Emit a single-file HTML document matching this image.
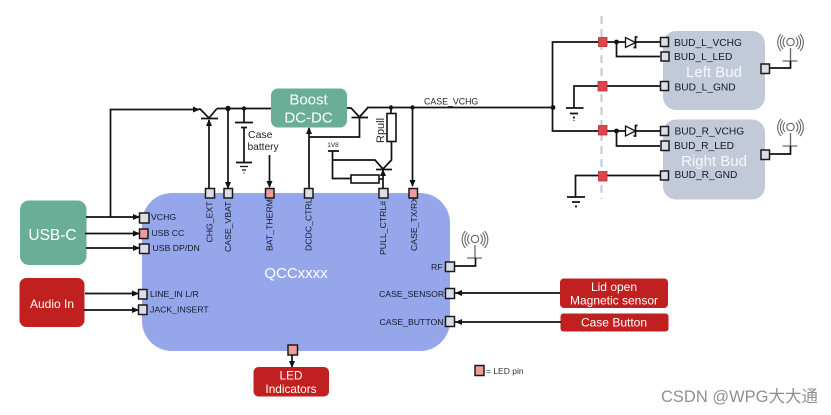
<!DOCTYPE html>
<html><head><meta charset="utf-8"><style>
html,body{margin:0;padding:0;background:#fff}
svg{display:block;filter:blur(.3px)}
text{font-family:"Liberation Sans","Noto Sans CJK SC",sans-serif}
.l{font-size:8.7px;fill:#141a26}
.b{font-size:10.200px;fill:#141a26}
.w{fill:#fff;text-anchor:middle}
.p{fill:#dcdde6;stroke:#1a1a1a;stroke-width:1.500}
.r{fill:#f29a9a;stroke:#1a1a1a;stroke-width:1.500}
.d{fill:#e2444a;stroke:#b03038;stroke-width:.8}
.n{fill:none;stroke:#111;stroke-width:1.700}
.t{fill:none;stroke:#111;stroke-width:1.200}
.a{fill:none;stroke:#666;stroke-width:1.100}
</style></head><body>
<svg width="831" height="415" viewBox="0 0 831 415" xmlns="http://www.w3.org/2000/svg">
<defs><marker id="m" markerWidth="7" markerHeight="7" refX="6" refY="3.500" orient="auto" markerUnits="userSpaceOnUse"><path d="M0 0.5L7 3.500L0 6.500Z" fill="#111"/></marker>
<g id="ant"><path d="M475 245V258" stroke="#666" stroke-width="1.300"/><path d="M467 258H482" stroke="#555" stroke-width="1.100"/><circle cx="475" cy="239" r="3.700" class="a"/><path class="a" d="M469.500 234.500A7 7 0 0 0 469.500 244M480.500 234.500A7 7 0 0 1 480.500 244M467.500 232.500A10 10 0 0 0 467.500 246M482.500 232.500A10 10 0 0 1 482.500 246M465.500 231A12.500 12.500 0 0 0 465.500 248M484.500 231A12.500 12.500 0 0 1 484.500 248"/></g>
<g id="dio"><path d="M625.500 37.500V47.500L635.500 42.500Z" fill="#fff" stroke="#111" stroke-width="1.300"/><path class="n" d="M637.500 37H635.500V47.500H633.500"/></g></defs>

<!-- blocks -->
<rect x="142" y="193" width="308" height="158" rx="30" fill="#96a6eb"/>
<rect x="20" y="200.500" width="66.500" height="64.500" rx="9" fill="#6aae98"/>
<rect x="19.500" y="278" width="65" height="49" rx="7" fill="#c0201f"/>
<rect x="271" y="88.500" width="76" height="39" rx="7" fill="#6aae98"/>
<rect x="663" y="31" width="102" height="79" rx="13" fill="#c2cad9"/>
<rect x="663" y="119.500" width="102" height="80" rx="13" fill="#c2cad9"/>
<rect x="560" y="278.500" width="108" height="29.500" rx="4" fill="#c0201f"/>
<rect x="560.500" y="313.500" width="108" height="18" rx="3" fill="#c0201f"/>
<rect x="253.500" y="367" width="75.500" height="29.500" rx="5" fill="#c0201f"/>

<!-- dashed separator -->
<path d="M601.500 16V199" stroke="#c2c8d8" stroke-width="2" stroke-dasharray="8 5" fill="none"/>

<!-- USB / audio connectors -->
<path class="n" d="M86 217H139" marker-end="url(#m)"/>
<path class="n" d="M85 233.500H139" marker-end="url(#m)"/>
<path class="n" d="M86 248H139" marker-end="url(#m)"/>
<path class="n" d="M85 293.500H138" marker-end="url(#m)"/>
<path class="n" d="M84 310H138" marker-end="url(#m)"/>
<path class="n" d="M110.500 217V109.500H199" marker-end="url(#m)"/>

<!-- CHG transistor -->
<path class="n" d="M199 109H200L209 118M217 108.500L209 118"/>
<path class="n" d="M201 118.500H218"/>
<path class="n" d="M209 189V120" marker-end="url(#m)"/>
<path class="n" d="M217 108.500H271"/>
<circle cx="228" cy="108.500" r="2.700" fill="#111"/>
<circle cx="244" cy="108.500" r="2.200" fill="#111"/>
<path class="n" d="M228 108.500V188" marker-end="url(#m)"/>

<!-- battery -->
<path class="n" d="M244 108.500V122M235 122.500H253M241 127.500H247M244 127.500V162M236 162.500H252"/>
<path class="t" d="M240 166.500H248M242 170H246M243.500 173H244.500"/>
<text x="248" y="138" font-size="10.500" fill="#222">Case</text>
<text x="247.500" y="150" font-size="10.200" fill="#222">battery</text>
<path class="n" d="M269.500 155V187" marker-end="url(#m)"/>

<!-- Boost & second transistor -->
<path class="n" d="M309 188V128" marker-end="url(#m)"/>
<path class="n" d="M309 137H359.500V118"/>
<path class="n" d="M347 108H351L359.500 117M368 107.500L359.500 117"/>
<path class="n" d="M351.500 117.500H368"/>
<path class="n" d="M367 107.500H553"/>
<circle cx="391" cy="107.500" r="2.200" fill="#111"/>
<circle cx="412.500" cy="107.500" r="2.200" fill="#111"/>
<path class="n" d="M412.500 107.500V186" marker-end="url(#m)"/>
<text x="424" y="104.500" font-size="8.800" fill="#1c2430">CASE_VCHG</text>

<!-- Rpull / pull transistor -->
<path class="n" d="M391 107.500V114"/>
<rect x="387" y="113.500" width="9" height="28" fill="#fff" stroke="#111" stroke-width="1.600"/>
<path class="n" d="M391.500 141V160L383 169"/>
<text transform="translate(384,143) rotate(-90)" font-size="11" fill="#222">Rpull</text>
<text x="333" y="147" font-size="6.500" text-anchor="middle" fill="#222">1V8</text>
<path class="n" d="M328 151H339M332.500 151V178.500H351"/>
<rect x="351" y="175" width="28" height="8" fill="#fff" stroke="#111" stroke-width="1.600"/>
<path class="n" d="M332.500 160H375L383 169"/>
<path class="n" d="M376 169.500H392"/>
<path class="n" d="M383 188V170" marker-end="url(#m)"/>
<path class="n" d="M379 179H383"/>

<!-- right connectors in/out -->
<path class="n" d="M455 293H560"/>
<path d="M455 293L462 290V296Z" fill="#111"/>
<path class="n" d="M455 322H561"/>
<path d="M455 322L462 319V325Z" fill="#111"/>
<path class="n" d="M292 355V367" marker-end="url(#m)"/>

<!-- main bus to buds -->
<circle cx="553" cy="107.500" r="2.400" fill="#111"/>
<path class="n" d="M660 42H552.500V131H660"/>
<path class="n" d="M660 56.500H616.500V42"/>
<circle cx="616.500" cy="42" r="2.400" fill="#111"/>
<path class="n" d="M660 86H574V108"/>
<path class="n" d="M566 108H583.500"/>
<path class="n" d="M570 113.500H578M573 117.500H575"/>
<path class="t" d="M573.500 120.500H574.500"/>
<path class="n" d="M660 146H616.500V131"/>
<circle cx="616.500" cy="131" r="2.400" fill="#111"/>
<path class="n" d="M660 175.500H575.500V197"/>
<path class="n" d="M567 197H585M572 202H580M575 206.500H577"/>
<use href="#dio"/>
<use href="#dio" transform="translate(0,88.500)"/>

<!-- dark pins -->
<rect class="d" x="598.500" y="37.500" width="8.500" height="9"/>
<rect class="d" x="598" y="81.500" width="9" height="9.500"/>
<rect class="d" x="598.500" y="125.500" width="8.500" height="9.500"/>
<rect class="d" x="598.500" y="171.500" width="8.500" height="9.500"/>

<!-- bud pins -->
<rect class="p" x="660.500" y="37.500" width="8" height="9"/>
<rect class="p" x="661" y="52" width="8" height="9"/>
<rect class="p" x="660.500" y="81.500" width="8" height="9"/>
<rect class="p" x="660.500" y="126.500" width="8" height="9"/>
<rect class="p" x="661" y="141" width="8" height="9.500"/>
<rect class="p" x="660.500" y="171" width="8" height="9"/>
<rect class="p" x="761" y="64" width="8.500" height="9.500"/>
<rect class="p" x="761" y="150" width="8.500" height="9.500"/>

<!-- chip pins -->
<rect class="p" x="205.500" y="188.500" width="9" height="9.500"/>
<rect class="p" x="224" y="188.500" width="8.500" height="9.500"/>
<rect class="r" x="265.500" y="188.500" width="8.500" height="9.500"/>
<rect class="p" x="304.500" y="188.500" width="8.500" height="9.500"/>
<rect class="p" x="379" y="188.500" width="9" height="9.500"/>
<rect class="r" x="409" y="188.500" width="8.500" height="9.500"/>
<rect class="p" x="139.500" y="213" width="9.500" height="10"/>
<rect class="r" x="139.500" y="229" width="8.500" height="9.500"/>
<rect class="p" x="139.500" y="244" width="9.500" height="9.500"/>
<rect class="p" x="138.500" y="289.500" width="8.500" height="9.500"/>
<rect class="p" x="138.500" y="305" width="8.500" height="9.500"/>
<rect class="p" x="445.500" y="262" width="9" height="9.500"/>
<rect class="p" x="445.500" y="288.500" width="9" height="10"/>
<rect class="p" x="445.500" y="316.500" width="9" height="10"/>
<rect class="r" x="288" y="345" width="9.500" height="10"/>
<rect class="r" x="475" y="365.500" width="9" height="10"/>

<!-- antennas -->
<use href="#ant"/>
<path class="n" d="M455 266H475.500V258"/>
<use href="#ant" transform="translate(315.500,-197)"/>
<path class="n" d="M770 68H790.500V61"/>
<use href="#ant" transform="translate(315.500,-112)"/>
<path class="n" d="M770 154H790.500V146"/>

<!-- block labels -->
<text class="w" x="52.500" y="240" font-size="15.500">USB-C</text>
<text class="w" x="52" y="308" font-size="12">Audio In</text>
<text class="w" x="308.500" y="104.500" font-size="15">Boost</text>
<text class="w" x="308.500" y="122.500" font-size="15">DC-DC</text>
<text class="w" x="296" y="278" font-size="15">QCCxxxx</text>
<text class="w" x="714" y="77" font-size="15" fill-opacity=".85">Left Bud</text>
<text class="w" x="714" y="166" font-size="15" fill-opacity=".85">Right Bud</text>
<text class="w" x="614" y="291" font-size="12">Lid open</text>
<text class="w" x="614" y="304.500" font-size="12">Magnetic sensor</text>
<text class="w" x="614" y="326.500" font-size="12">Case Button</text>
<text class="w" x="291" y="379.500" font-size="11.800">LED</text>
<text class="w" x="291" y="393" font-size="11.800">Indicators</text>

<!-- pin labels -->
<text class="l" x="151" y="220">VCHG</text>
<text class="l" x="151.500" y="236">USB CC</text>
<text class="l" x="152.500" y="251">USB DP/DN</text>
<text class="l" x="150" y="297">LINE_IN L/R</text>
<text class="l" x="150" y="312.500">JACK_INSERT</text>
<text class="l" x="431" y="270">RF</text>
<text class="l" x="379" y="297">CASE_SENSOR</text>
<text class="l" x="379.500" y="325">CASE_BUTTON</text>
<text class="l" transform="translate(212.500,242.500) rotate(-90)">CHG_EXT</text>
<text class="l" transform="translate(231,252) rotate(-90)">CASE_VBAT</text>
<text class="l" transform="translate(272.500,251) rotate(-90)">BAT_THERM</text>
<text class="l" transform="translate(311.500,251) rotate(-90)">DCDC_CTRL</text>
<text class="l" transform="translate(386,255) rotate(-90)">PULL_CTRL#</text>
<text class="l" transform="translate(417,251) rotate(-90)">CASE_TX/RX</text>
<text class="b" x="674" y="46">BUD_L_VCHG</text>
<text class="b" x="674" y="60">BUD_L_LED</text>
<text class="b" x="674.500" y="90.500">BUD_L_GND</text>
<text class="b" x="674.500" y="134.500">BUD_R_VCHG</text>
<text class="b" x="674" y="149">BUD_R_LED</text>
<text class="b" x="674.500" y="178">BUD_R_GND</text>
<text x="486" y="374" font-size="8.500" fill="#333">= LED pin</text>
<text x="661" y="402" font-size="16.500" fill="#8f8f8f">CSDN @WPG大大通</text>
</svg>
</body></html>
